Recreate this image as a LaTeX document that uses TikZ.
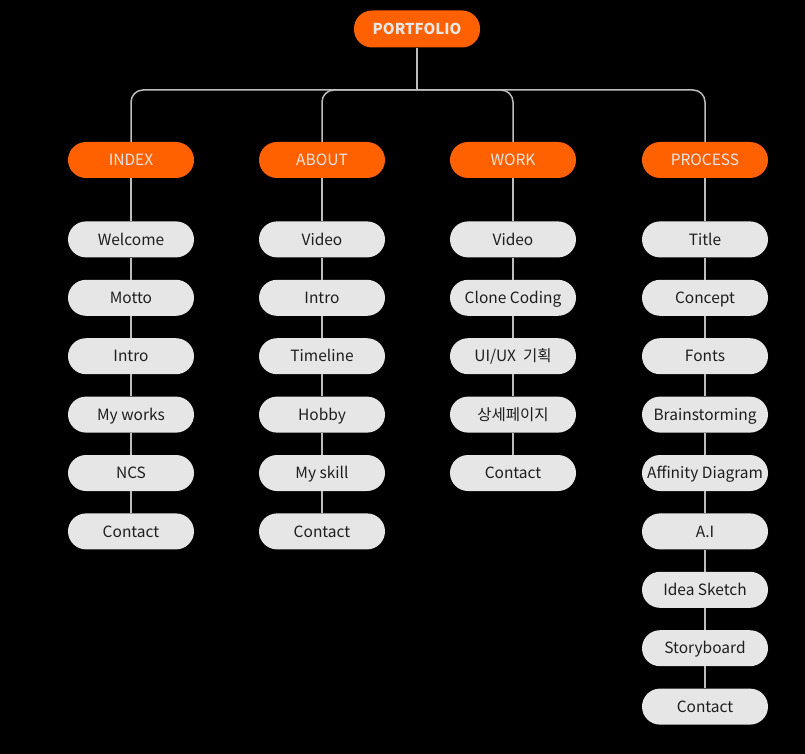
\documentclass[tikz,border=0pt]{standalone}
\usepackage{fontspec}
\setmainfont{Noto Sans CJK KR}
\usetikzlibrary{positioning,calc}
\definecolor{SiteOrange}{HTML}{FF6000}
\definecolor{PillGrey}{HTML}{E6E6E6}
\definecolor{InkDark}{HTML}{1E1E1E}
\definecolor{LinkGrey}{HTML}{BDBDBD}
\definecolor{Canvas}{HTML}{000000}
\tikzset{
  rootbox/.style={rounded corners=18pt, fill=SiteOrange, text=PillGrey, font=\fontsize{15}{18}\selectfont\bfseries, minimum width=126pt, minimum height=37pt, inner xsep=2pt, text height=12pt, text depth=0.5pt},
  sectionbox/.style={rounded corners=18pt, fill=SiteOrange, text=PillGrey, font=\fontsize{15.5}{18}\selectfont, minimum width=126pt, minimum height=36pt, inner xsep=2pt, text height=12pt, text depth=0.5pt},
  pagebox/.style={rounded corners=18pt, fill=PillGrey, text=InkDark, font=\fontsize{15.5}{18}\selectfont, minimum width=126pt, minimum height=36pt, inner xsep=2pt, text height=12pt, text depth=0.5pt},
  link/.style={draw=LinkGrey, line width=1.5pt},
  bus/.style={draw=LinkGrey, line width=1.5pt, rounded corners=12pt}
}

\begin{document}
\begin{tikzpicture}[x=1pt, y=-1pt, node distance=22pt]
    \fill[Canvas] (0,0) rectangle (805,754);
    \useasboundingbox (0,0) rectangle (805,754);

    \node[rootbox] (portfolio) at (417,29) {PORTFOLIO};
    \coordinate (bus) at (417,90);

    \node[sectionbox] (index) at (131,160) {INDEX};
    \node[sectionbox] (about) at (322,160) {ABOUT};
    \node[sectionbox] (work) at (513,160) {WORK};
    \node[sectionbox] (process) at (705,160) {PROCESS};

    % index pages
    \node[pagebox, below=43pt of index] (welcome) {Welcome};
    \node[pagebox, below=of welcome] (motto) {Motto};
    \node[pagebox, below=of motto] (intro) {Intro};
    \node[pagebox, below=of intro] (myworks) {My works};
    \node[pagebox, below=of myworks] (ncs) {NCS};
    \node[pagebox, below=of ncs] (contactA) {Contact};

    % about pages
    \node[pagebox, below=43pt of about] (videoB) {Video};
    \node[pagebox, below=of videoB] (introB) {Intro};
    \node[pagebox, below=of introB] (timeline) {Timeline};
    \node[pagebox, below=of timeline] (hobby) {Hobby};
    \node[pagebox, below=of hobby] (myskill) {My skill};
    \node[pagebox, below=of myskill] (contactB) {Contact};

    % work pages
    \node[pagebox, below=43pt of work] (videoC) {Video};
    \node[pagebox, below=of videoC] (clone) {Clone Coding};
    \node[pagebox, below=of clone] (uiux) {UI/UX~~기획};
    \node[pagebox, below=of uiux] (detail) {상세페이지};
    \node[pagebox, below=of detail] (contactC) {Contact};

    % process pages
    \node[pagebox, below=43pt of process] (title) {Title};
    \node[pagebox, below=of title] (concept) {Concept};
    \node[pagebox, below=of concept] (fonts) {Fonts};
    \node[pagebox, below=of fonts] (brain) {Brainstorming};
    \node[pagebox, below=of brain] (affinity) {Affinity Diagram};
    \node[pagebox, below=of affinity] (ai) {A.I};
    \node[pagebox, below=of ai] (sketch) {Idea Sketch};
    \node[pagebox, below=of sketch] (story) {Storyboard};
    \node[pagebox, below=of story] (contactD) {Contact};

    \draw[link] (portfolio) -- (bus);
    \draw[bus] (index.north) |- (bus) -| (process.north);
    \draw[bus] (about.north) |- (bus) -| (work.north);

    \draw[link] (index) -- (welcome) -- (motto) -- (intro) -- (myworks) -- (ncs) -- (contactA);
    \draw[link] (about) -- (videoB) -- (introB) -- (timeline) -- (hobby) -- (myskill) -- (contactB);
    \draw[link] (work) -- (videoC) -- (clone) -- (uiux) -- (detail) -- (contactC);
    \draw[link] (process) -- (title) -- (concept) -- (fonts) -- (brain) -- (affinity) -- (ai) -- (sketch) -- (story) -- (contactD);
\end{tikzpicture}
\end{document}
